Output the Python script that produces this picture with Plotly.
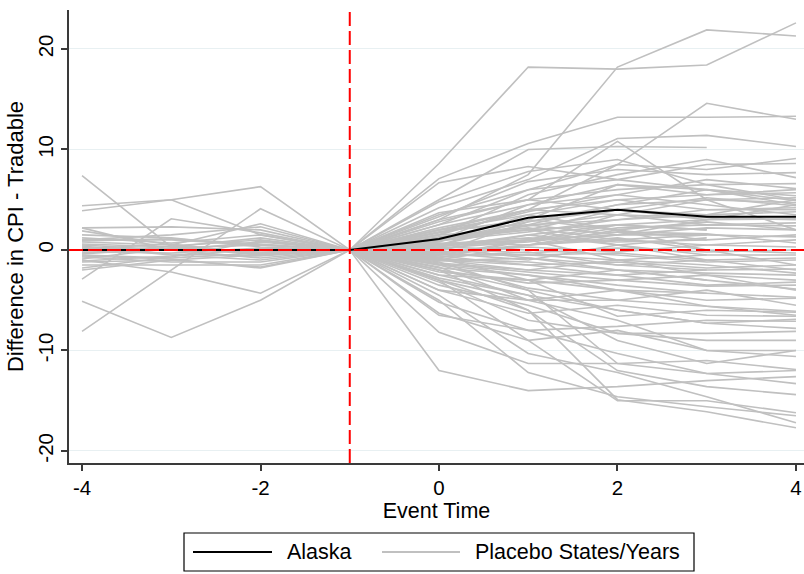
import plotly.graph_objects as go

# ---------------- data ----------------
event_time = [-4, -3, -2, -1, 0, 1, 2, 3, 4]
x_tick_vals = [-4, -2, 0, 2, 4]
x_tick_labels = ["-4", "-2", "0", "2", "4"]
y_tick_vals = [-20, -10, 0, 10, 20]
y_tick_labels = ["-20", "-10", "0", "10", "20"]

alaska = [0.0, 0.0, 0.0, 0.0, 1.1, 3.2, 4.0, 3.3, 3.3]

normalized_value = 0.0  # every placebo series is normalised to 0 at t = -1

placebo_t0 = [8.6, 3.0, 2.0, 7.1, 4.2, 5.0, 3.7, 2.5, 3.3, 6.7,
              1.5, 2.8, 1.0, 2.2, 0.5, 1.8, -0.5, 1.2, 0.8, 2.0,
              0.3, 1.5, -1.0, 0.6, 1.0, 0.2, -0.3, 0.5, 1.3, -0.8,
              0.0, 3.0, 2.5, 4.8, 3.5, 1.7, 0.9, -0.2, 1.1, 0.4,
              -0.5, -1.0, -0.3, -1.3, -0.7, -2.0, 0.2, -1.5, -3.0, -2.5,
              -4.0, -1.2, -5.2, -3.5, -6.3, -8.2, -12.0, -5.0, -4.5, -2.0,
              -6.5, -3.0, -2.8, -0.8, -1.8, -2.2, -0.6, -1.0, -0.4, 0.1,
              -1.5, -2.5, -3.2, -4.0, -0.9, -1.7, -3.0, -2.0, 0.5, 1.5,
              0.3, -0.2, 0.7, -1.1, 2.0, 0.9, -0.5, 1.0, 0.6, -1.4]

placebo_t1 = [18.2, 7.5, 4.0, 10.6, 7.0, 10.0, 5.0, 6.0, 6.8, 8.3,
              5.5, 5.0, 4.5, 4.0, 2.5, 3.0, 1.0, 2.0, 3.5, 2.5,
              1.5, 4.0, 0.5, 1.0, 2.0, 0.8, 0.5, 3.0, 2.2, 1.0,
              1.5, 5.0, 4.5, 7.8, 6.0, 3.8, 1.8, 2.8, 2.4, 0.9,
              -0.5, -1.5, -1.0, -2.0, -0.2, -3.3, -0.8, -2.5, -5.0, -3.0,
              -6.3, -4.0, -8.0, -5.5, -9.0, -11.3, -14.0, -12.2, -10.3, -6.0,
              -8.0, -6.0, -4.5, -3.0, -2.5, -3.0, -1.5, -2.0, -0.5, -0.3,
              -3.8, -4.5, -7.0, -5.0, -1.2, -5.0, -9.0, -4.0, 1.0, 2.0,
              0.0, 0.3, 0.5, -0.8, 3.5, 2.5, 0.5, 2.8, 1.2, -2.2]

placebo_t2 = [18.0, 18.2, 8.5, 13.2, 11.1, 10.3, 10.8, 8.5, 8.0, 7.0,
              7.5, 6.0, 5.5, 5.0, 4.5, 6.5, 3.5, 4.0, 5.0, 3.0,
              2.5, 3.5, 2.0, 1.5, 2.5, 1.8, 1.0, 2.0, 1.0, 2.5,
              0.5, 4.0, 6.5, 9.0, 7.0, 5.5, 3.0, 4.5, 3.5, 2.2,
              -1.0, -1.2, 0.5, -2.5, -1.5, -3.0, -2.0, -4.0, -5.0, -6.6,
              -5.5, -6.0, -7.6, -8.3, -8.0, -11.3, -13.6, -14.6, -12.2, -14.9,
              -10.3, -12.0, -9.0, -4.0, -3.5, -2.0, -2.5, -1.0, -0.3, 0.2,
              -5.0, -6.0, -8.3, -4.0, -2.0, -7.0, -15.0, -11.3, -1.0, 0.5,
              -0.5, -0.2, 1.2, -1.5, 2.0, 1.5, 1.5, 4.0, 0.8, -3.0]

placebo_t3 = [18.4, 21.9, 14.6, 13.2, 11.4, 10.2, 5.0, 8.0, 7.5, 6.0,
              9.0, 6.5, 7.0, 5.5, 6.0, 6.0, 5.0, 5.2, 4.0, 3.5,
              3.0, 2.5, 2.8, 1.5, 2.0, 1.6, 0.5, 1.0, 1.5, 2.0,
              1.2, 3.0, 5.5, 6.5, 8.5, 4.5, 4.0, 5.0, 3.2, 2.5,
              -0.5, -1.8, -0.5, -2.0, -1.0, -2.5, -3.0, -4.3, -5.6, -6.0,
              -6.5, -7.3, -7.0, -8.3, -10.0, -11.0, -13.0, -15.6, -14.6, -16.1,
              -12.3, -13.6, -11.3, -5.0, -4.3, -3.0, -3.5, -1.5, -1.0, -0.2,
              -4.0, -7.3, -9.0, -5.6, -2.3, -10.0, -15.0, -12.3, -2.5, -1.0,
              -1.2, 0.5, 0.0, -2.0, 0.0, 2.2, 3.0, 3.5, 1.0, -3.6]

placebo_t4 = [22.6, 21.3, 13.0, 13.3, 10.3, None, 2.0, 9.1, 7.7, 4.5,
              7.2, 6.6, 6.1, 5.7, 5.4, 4.9, 4.7, 4.4, 4.0, 3.8,
              3.1, 2.7, 2.0, 1.3, None, 0.7, 0.3, None, None, None,
              None, None, 6.0, 5.0, 8.6, 3.5, 4.2, 5.2, 3.0, 2.4,
              -0.5, -1.5, None, -1.9, None, -3.0, -3.9, -4.7, -6.1, -6.2,
              -6.6, -6.9, -7.1, -8.1, -10.6, -11.9, -12.6, -16.5, -17.2, -17.7,
              -13.3, -14.4, -10.0, -4.8, None, None, -3.2, -2.3, -0.8, 0.0,
              -5.5, -7.8, -9.0, -6.5, -2.5, -10.0, -16.2, -12.0, -4.0, -2.0,
              -1.0, 1.0, -0.3, None, -1.5, 2.0, 4.5, 5.0, 1.5, -3.5]

# placebo series (1-based ids) that also have pre-period observations
pre_series = [3, 4, 6, 8, 9, 11, 13, 14, 16, 18, 20, 25, 30, 35, 39, 41, 44,
              46, 47, 48, 50, 53, 55, 60, 64, 67, 69, 70, 75, 81, 83, 86, 89, 90]
pre_tm4 = [7.4, 4.4, 3.9, -2.9, -8.1, 2.2, 1.9, 2.2, 1.2, 0.8, -0.3, 1.0, -0.4, 0.9, -1.1, -1.2, -1.5,
           -5.1, 0.5, -1.0, -0.7, 0.3, -2.0, 0.6, -0.5, 1.0, -0.2, 0.2, -0.9, 0.4, 1.5, -0.6, 0.1, -1.8]
pre_tm3 = [0.3, 5.0, 5.0, 3.1, -2.0, 2.3, 0.5, 0.0, 0.7, 0.5, 0.4, 1.5, 0.2, 1.1, -0.6, -1.0, -1.5,
           -8.7, 0.0, -2.2, -1.2, -0.5, -1.0, 0.3, -0.8, 1.0, -0.3, 0.1, 0.2, -0.4, 1.2, -0.9, 0.6, -0.7]
pre_tm2 = [-0.5, 6.3, 1.5, 1.7, 4.1, 2.0, 2.6, 0.8, 1.5, -0.5, 1.0, 2.3, -0.3, 0.6, 0.1, -1.7, -1.5,
           -5.0, -0.8, -4.3, -1.2, -1.0, -0.5, 1.2, -0.3, 0.5, 0.2, -0.2, 0.5, -0.6, 0.3, -1.8, -0.4, 0.9]

# ---------------- styling helpers ----------------
W, H = 804, 574
L, R, T, B = 69, 0, 10, 111
PW, PH = W - L - R, H - T - B
FONT = "Liberation Sans, Arial, Helvetica, sans-serif"
FS_TICK = 20.5
FS_XT = 21.5
FS_YT = 22
FS_LEG = 21.5
GREY = "#c0c0c0"
RED = "#ff0000"
AXC = "#3a3a3a"


def px_x(px):
    return (px - L) / PW


def px_y(py):
    return (H - B - py) / PH


fig = go.Figure()

for i in range(len(placebo_t0)):
    sid = i + 1
    post = [normalized_value, placebo_t0[i], placebo_t1[i], placebo_t2[i],
            placebo_t3[i], placebo_t4[i]]
    if sid in pre_series:
        j = pre_series.index(sid)
        ys = [pre_tm4[j], pre_tm3[j], pre_tm2[j]] + post
        xs = list(event_time)
    else:
        ys = post
        xs = event_time[3:]
    pts = [(x, y) for x, y in zip(xs, ys) if y is not None]
    fig.add_trace(go.Scatter(
        x=[p[0] for p in pts], y=[p[1] for p in pts], mode="lines",
        line=dict(color=GREY, width=1.6), showlegend=False, hoverinfo="skip",
        name="Placebo States/Years"))

fig.add_trace(go.Scatter(x=event_time, y=alaska, mode="lines",
                         line=dict(color="black", width=2), showlegend=False,
                         name="Alaska"))

shapes = [
    dict(type="line", xref="x", yref="paper", x0=-1, x1=-1, y0=0, y1=1,
         line=dict(color=RED, width=2, dash="14px,5px"), layer="above"),
    dict(type="line", xref="paper", yref="y", x0=0, x1=1, y0=0, y1=0,
         line=dict(color=RED, width=2, dash="14px,5px"), layer="above"),
    # legend box
    dict(type="rect", xref="paper", yref="paper", x0=px_x(184), x1=px_x(694),
         y0=px_y(571), y1=px_y(533), line=dict(color="black", width=1.2),
         fillcolor="white", layer="above"),
    dict(type="line", xref="paper", yref="paper", x0=px_x(193), x1=px_x(272),
         y0=px_y(552), y1=px_y(552), line=dict(color="black", width=2)),
    dict(type="line", xref="paper", yref="paper", x0=px_x(382), x1=px_x(460),
         y0=px_y(552), y1=px_y(552), line=dict(color=GREY, width=2)),
]
annotations = [
    dict(text="Alaska", xref="paper", yref="paper", x=px_x(285), y=px_y(552),
         xanchor="left", yanchor="middle", showarrow=False,
         font=dict(family=FONT, size=FS_LEG, color="black")),
    dict(text="Placebo States/Years", xref="paper", yref="paper", x=px_x(473),
         y=px_y(552), xanchor="left", yanchor="middle", showarrow=False,
         font=dict(family=FONT, size=FS_LEG, color="black")),
]

fig.update_layout(
    width=W, height=H,
    margin=dict(l=L, r=R, t=T, b=B, pad=0, autoexpand=False),
    paper_bgcolor="white", plot_bgcolor="white",
    font=dict(family=FONT, size=FS_TICK, color="black"),
    showlegend=False,
    shapes=shapes, annotations=annotations,
    xaxis=dict(
        range=[-4.146, 4.09], tickvals=x_tick_vals, ticktext=x_tick_labels,
        showgrid=False, zeroline=False, showline=True, linecolor=AXC,
        linewidth=1.5, ticks="outside", ticklen=6, tickcolor=AXC, tickwidth=1.5,
        automargin=False, ticklabeloverflow="allow",
        tickfont=dict(family=FONT, size=FS_TICK, color="black"),
        title=dict(text="Event Time", standoff=3,
                   font=dict(family=FONT, size=FS_XT, color="black")),
    ),
    yaxis=dict(
        range=[-21.2, 23.88], tickvals=y_tick_vals, ticktext=y_tick_labels,
        tickangle=-90, showgrid=True, gridcolor="#e8f0f2", gridwidth=1.2,
        zeroline=False, showline=True, linecolor=AXC, linewidth=1.5,
        ticks="outside", ticklen=6, tickcolor=AXC, tickwidth=1.5,
        automargin=False, ticklabeloverflow="allow",
        tickfont=dict(family=FONT, size=FS_TICK, color="black"),
        title=dict(text="Difference in CPI - Tradable", standoff=4,
                   font=dict(family=FONT, size=FS_YT, color="black")),
    ),
)

fig.write_html("out.html", config={"displayModeBar": False},
               post_script="document.body.style.margin='0';document.body.style.overflow='hidden';")
